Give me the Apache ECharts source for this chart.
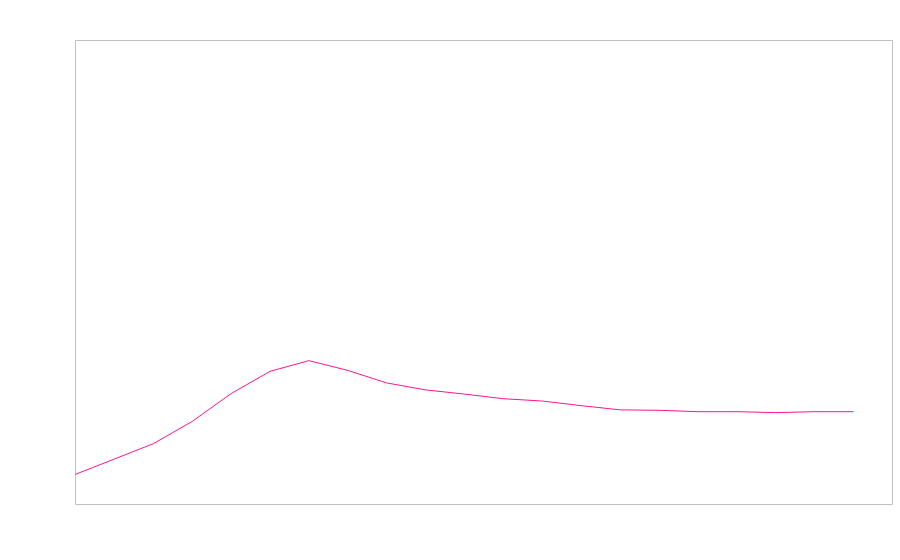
<!DOCTYPE html>
<html>
<head>
<meta charset="utf-8">
<script src="https://cdn.jsdelivr.net/npm/echarts@6/dist/echarts.min.js"></script>
<style>
  html, body { margin: 0; padding: 0; background: #fff; }
  #chart { width: 900px; height: 560px; }
</style>
</head>
<body>
<div id="chart"></div>
<script>
// x positions (22 slots, the last one has no value)
const categories = ['1', '2', '3', '4', '5', '6', '7', '8', '9', '10', '11',
  '12', '13', '14', '15', '16', '17', '18', '19', '20', '21', '22']
// values (y axis 0..100)
const values = [6.5, 9.8, 13.1, 17.9, 23.9, 28.7, 31.0, 28.9, 26.2, 24.7, 23.8,
  22.8, 22.3, 21.3, 20.4, 20.3, 20.0, 20.0, 19.8, 20.0, 20.0]

const chart = echarts.init(document.getElementById('chart'))
const option = {
  animation: false,
  grid: {
    left: 75.5,
    right: 7.5,
    top: 40.5,
    bottom: 55.5,
    show: true,
    borderColor: '#c0c0c0',
    borderWidth: 1,
    backgroundColor: 'transparent'
  },
  xAxis: {
    type: 'category',
    data: categories,
    boundaryGap: false,
    axisLine: { show: false },
    axisTick: { show: false },
    axisLabel: { show: false },
    splitLine: { show: false }
  },
  yAxis: {
    type: 'value',
    min: 0,
    max: 100,
    axisLine: { show: false },
    axisTick: { show: false },
    axisLabel: { show: false },
    splitLine: { show: false }
  },
  series: [
    {
      type: 'line',
      data: values,
      showSymbol: false,
      lineStyle: { color: '#ff1493', width: 1 },
      itemStyle: { color: '#ff1493' }
    }
  ]
}
chart.setOption(option)
</script>
</body>
</html>
